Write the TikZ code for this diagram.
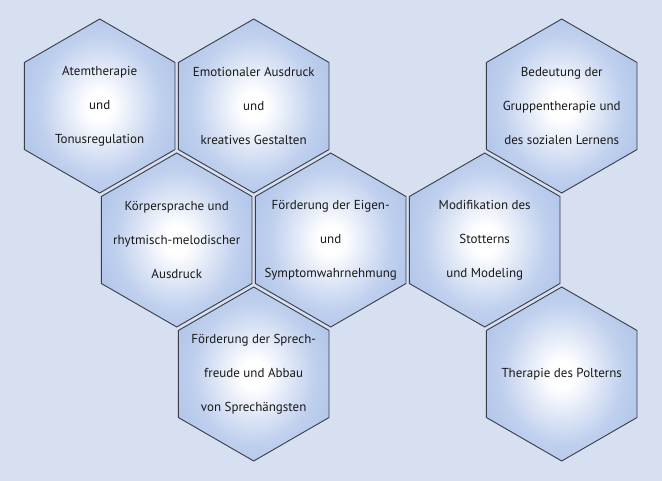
\documentclass[tikz,border=0pt]{standalone}
\usepackage{fontspec}
\setmainfont{PT Sans}
\usetikzlibrary{shapes.geometric}
\definecolor{bgblue}{RGB}{214,224,241}
\definecolor{hexblue}{RGB}{146,176,224}
\definecolor{hexmid}{RGB}{192,208,238}
\definecolor{hexline}{RGB}{58,60,72}
\pgfdeclareradialshading{hexglow}{\pgfpointorigin}{color(0bp)=(white); color(4bp)=(white); color(20bp)=(hexmid); color(46bp)=(hexblue); color(50bp)=(hexblue)}

\begin{document}
\begin{tikzpicture}[x=1pt, y=-1pt,
  hexcell/.style={regular polygon, regular polygon sides=6, shape border rotate=30,
    minimum size=174pt, inner sep=0pt, outer sep=0pt, draw=hexline, line width=0.9pt,
    shading=hexglow},
  hextext/.style={align=center, text=black!90, font=\fontsize{13}{34}\selectfont}]
  % background
  \fill[bgblue] (0,0) rectangle (662,481);
  \useasboundingbox (0,0) rectangle (662,481);
  % row 1
  \node[hexcell] (atem) at (99.7,106) {};
  \node[hexcell] (emot) at (253.7,106) {};
  \node[hexcell] (grupp) at (561.7,106) {};
  % row 2
  \node[hexcell] (koerper) at (176.7,240) {};
  \node[hexcell] (eigen) at (330.7,240) {};
  \node[hexcell] (stott) at (484.7,240) {};
  % row 3
  \node[hexcell] (sprech) at (253.7,374) {};
  \node[hexcell] (polter) at (561.7,374) {};
  % labels
  \node[hextext] (atem-t) at (atem) {Atemtherapie\\und\\Tonusregulation};
  \node[hextext] (emot-t) at (emot) {Emotionaler Ausdruck\\und\\kreatives Gestalten};
  \node[hextext] (grupp-t) at (grupp) {Bedeutung der\\Gruppentherapie und\\des sozialen Lernens};
  \node[hextext] (koerper-t) at (koerper) {Körpersprache und\\rhytmisch-melodischer\\Ausdruck};
  \node[hextext] (eigen-t) at (eigen) {Förderung der Eigen-\\und\\Symptomwahrnehmung};
  \node[hextext] (stott-t) at (stott) {Modifikation des\\Stotterns\\und Modeling};
  \node[hextext] (sprech-t) at (sprech) {Förderung der Sprech-\\freude und Abbau\\von Sprechängsten};
  \node[hextext] (polter-t) at (polter) {Therapie des Polterns};
\end{tikzpicture}
\end{document}
